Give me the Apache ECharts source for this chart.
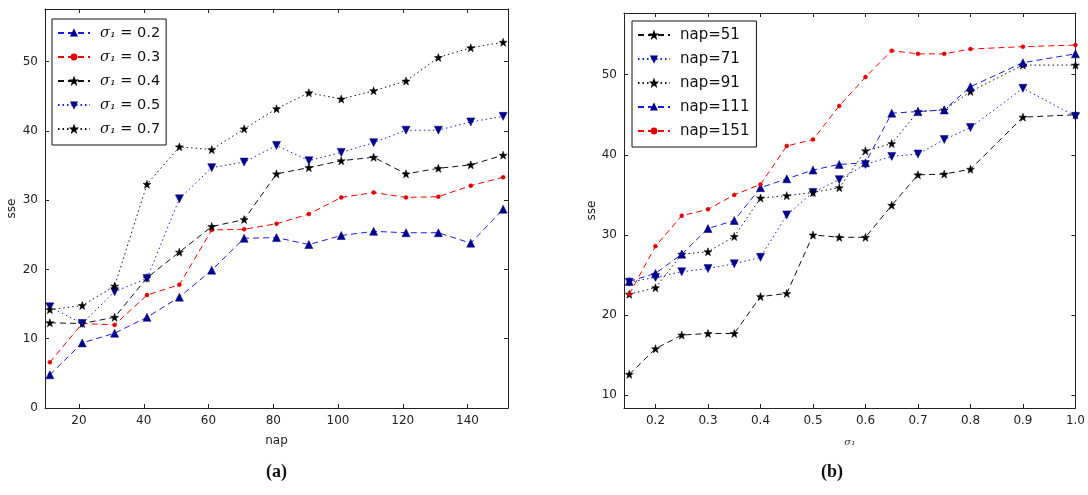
<!DOCTYPE html>
<html>
<head>
<meta charset="utf-8">
<script src="https://cdn.jsdelivr.net/npm/echarts@6/dist/echarts.min.js"></script>
<style>
  html, body { margin: 0; padding: 0; background: #fff; }
  #main { width: 1088px; height: 495px; }
</style>
</head>
<body>
<div id="main"></div>
<script>
// (a) sse vs nap, one line per sigma_1
var napX = [11, 21, 31, 41, 51, 61, 71, 81, 91, 101, 111, 121, 131, 141, 151];
var sigma02 = [4.8, 9.4, 10.8, 13.1, 16.0, 19.9, 24.5, 24.6, 23.6, 24.9, 25.5, 25.3, 25.3, 23.8, 28.7];
var sigma03 = [6.6, 12.2, 12.0, 16.3, 17.8, 25.7, 25.8, 26.6, 28.0, 30.4, 31.1, 30.4, 30.5, 32.1, 33.3];
var sigma04 = [12.3, 12.2, 13.1, 18.8, 22.5, 26.2, 27.2, 33.8, 34.7, 35.7, 36.2, 33.8, 34.6, 35.1, 36.5];
var sigma05 = [14.6, 12.2, 16.8, 18.7, 30.2, 34.7, 35.5, 37.9, 35.7, 36.9, 38.3, 40.1, 40.1, 41.3, 42.1];
var sigma07 = [14.2, 14.8, 17.6, 32.3, 37.7, 37.3, 40.3, 43.2, 45.5, 44.6, 45.8, 47.2, 50.6, 52.0, 52.8];
var napTicks = [20, 40, 60, 80, 100, 120, 140];
var sseTicksA = [0, 10, 20, 30, 40, 50];

// (b) sse vs sigma_1, one line per nap
var sigmaX = [0.15, 0.2, 0.25, 0.3, 0.35, 0.4, 0.45, 0.5, 0.55, 0.6, 0.65, 0.7, 0.75, 0.8, 0.9, 1.0];
var nap51 = [12.6, 15.8, 17.5, 17.7, 17.7, 22.3, 22.7, 30.0, 29.7, 29.7, 33.7, 37.5, 37.6, 38.2, 44.7, 45.0];
var nap71 = [24.1, 24.7, 25.4, 25.8, 26.4, 27.2, 32.5, 35.3, 36.9, 38.8, 39.8, 40.1, 41.9, 43.4, 48.3, 44.8];
var nap91 = [22.6, 23.4, 27.6, 27.9, 29.8, 34.6, 34.9, 35.3, 35.9, 40.5, 41.4, 45.4, 45.6, 47.9, 51.2, 51.2];
var nap111 = [24.2, 25.2, 27.6, 30.8, 31.8, 35.9, 37.0, 38.1, 38.8, 39.0, 45.2, 45.4, 45.6, 48.5, 51.5, 52.6];
var nap151 = [22.6, 28.6, 32.4, 33.2, 35.0, 36.3, 41.1, 41.9, 46.1, 49.7, 53.0, 52.6, 52.6, 53.2, 53.5, 53.7];
var sigmaTicks = [0.2, 0.3, 0.4, 0.5, 0.6, 0.7, 0.8, 0.9, 1.0];
var sseTicksB = [10, 20, 30, 40, 50];

var namesA = ['σ₁ = 0.2', 'σ₁ = 0.3', 'σ₁ = 0.4', 'σ₁ = 0.5', 'σ₁ = 0.7'];
var namesB = ['nap=51', 'nap=71', 'nap=91', 'nap=111', 'nap=151'];

var STAR = 'path://M0,-10L2.35,-3.24L9.51,-3.09L3.8,1.24L5.88,8.09L0,4L-5.88,8.09L-3.8,1.24L-9.51,-3.09L-2.35,-3.24Z';
var DASH = [6, 4];
var DOT = [1.5, 3];
var BLUE = '#1a1aee';
var NAVY = '#00008b';
var FONT = 'DejaVu Sans';

function pairs(xs, ys) {
  return xs.map(function (x, i) { return [x, ys[i]]; });
}

function mk(name, xi, xs, ys, color, mcolor, dash, symbol, size, rotate) {
  return {
    name: name,
    type: 'line',
    xAxisIndex: xi,
    yAxisIndex: xi,
    data: pairs(xs, ys),
    symbol: symbol,
    symbolSize: size,
    symbolRotate: rotate || 0,
    showAllSymbol: true,
    clip: false,
    animation: false,
    lineStyle: { color: color, width: 1, type: dash },
    itemStyle: { color: mcolor, borderColor: mcolor, borderWidth: 0.5 }
  };
}

function valAxis(grid, pos, min, max, ticks, showLabel, fmt) {
  return {
    type: 'value',
    gridIndex: grid,
    position: pos,
    min: min,
    max: max,
    splitLine: { show: false },
    axisLine: { show: true, onZero: false, lineStyle: { color: '#222', width: 1 } },
    axisTick: { show: true, inside: true, length: 4, customValues: ticks, lineStyle: { color: '#222' } },
    axisLabel: {
      show: showLabel,
      customValues: ticks,
      color: '#222',
      fontFamily: FONT,
      fontSize: 12,
      margin: 7,
      formatter: fmt
    }
  };
}

var legendBase = {
  orient: 'vertical',
  borderColor: '#111',
  borderWidth: 1,
  backgroundColor: '#fff',
  itemWidth: 32,
  itemHeight: 6,
  itemGap: 8,
  textStyle: { fontFamily: FONT, fontSize: 15, color: '#111', lineHeight: 16, padding: [0, 0, 0, 5] }
};

var dom = document.getElementById('main');
var myChart = echarts.init(dom, null, { renderer: 'canvas' });

var option = {
  animation: false,
  backgroundColor: '#fff',
  grid: [
    { left: 45, top: 9, width: 463, height: 399 },
    { left: 624, top: 13, width: 458, height: 395 }
  ],
  xAxis: [
    Object.assign(valAxis(0, 'bottom', 9.5, 152.5, napTicks, true), {
      name: 'nap', nameLocation: 'middle', nameGap: 27,
      nameTextStyle: { fontFamily: FONT, fontSize: 12, color: '#222' }
    }),
    Object.assign(valAxis(1, 'bottom', 0.14, 1.0, sigmaTicks, true, function (v) { return v.toFixed(1); }), {
      name: 'σ₁', nameLocation: 'middle', nameGap: 29,
      nameTextStyle: { fontFamily: 'DejaVu Serif', fontStyle: 'italic', fontSize: 10, color: '#333' }
    }),
    valAxis(0, 'top', 9.5, 152.5, napTicks, false),
    valAxis(1, 'top', 0.14, 1.0, sigmaTicks, false)
  ],
  yAxis: [
    Object.assign(valAxis(0, 'left', 0, 57.6, sseTicksA, true), {
      name: 'sse', nameLocation: 'middle', nameGap: 27,
      nameTextStyle: { fontFamily: FONT, fontSize: 12, color: '#222' }
    }),
    Object.assign(valAxis(1, 'left', 8.4, 57.7, sseTicksB, true), {
      name: 'sse', nameLocation: 'middle', nameGap: 25,
      nameTextStyle: { fontFamily: FONT, fontSize: 12, color: '#222' }
    }),
    valAxis(0, 'right', 0, 57.6, sseTicksA, false),
    valAxis(1, 'right', 8.4, 57.7, sseTicksB, false)
  ],
  legend: [
    Object.assign({}, legendBase, {
      left: 52, top: 19, padding: [6, 6, 8, 5],
      data: namesA,
      formatter: function (name) {
        return '{g|σ₁}' + name.replace('σ₁', '');
      },
      textStyle: Object.assign({}, legendBase.textStyle, {
        fontSize: 14.5,
        rich: { g: { fontFamily: 'DejaVu Serif', fontStyle: 'italic', fontSize: 14.5, color: '#111', lineHeight: 16 } }
      })
    }),
    Object.assign({}, legendBase, {
      left: 632, top: 21, padding: [6, 7, 8, 5],
      data: namesB
    })
  ],
  graphic: [
    { type: 'text', left: 266, top: 463, style: { text: '(a)', font: 'bold 18px "Liberation Serif"', fill: '#111' } },
    { type: 'text', left: 821, top: 463, style: { text: '(b)', font: 'bold 18px "Liberation Serif"', fill: '#111' } }
  ],
  series: [
    mk(namesA[0], 0, napX, sigma02, BLUE, NAVY, DASH, 'triangle', 8),
    mk(namesA[1], 0, napX, sigma03, '#ff0000', '#e00000', DASH, 'circle', 4),
    mk(namesA[2], 0, napX, sigma04, '#111', '#000', DASH, STAR, 8),
    mk(namesA[3], 0, napX, sigma05, BLUE, NAVY, DOT, 'triangle', 8, 180),
    mk(namesA[4], 0, napX, sigma07, '#111', '#000', DOT, STAR, 8),
    mk(namesB[0], 1, sigmaX, nap51, '#111', '#000', DASH, STAR, 8),
    mk(namesB[1], 1, sigmaX, nap71, BLUE, NAVY, DOT, 'triangle', 8, 180),
    mk(namesB[2], 1, sigmaX, nap91, '#111', '#000', DOT, STAR, 8),
    mk(namesB[3], 1, sigmaX, nap111, BLUE, NAVY, DASH, 'triangle', 8),
    mk(namesB[4], 1, sigmaX, nap151, '#ff0000', '#e00000', DASH, 'circle', 4)
  ]
};

if (option && typeof option === 'object') {
  myChart.setOption(option);
}

window.addEventListener('resize', myChart.resize);
</script>
</body>
</html>
